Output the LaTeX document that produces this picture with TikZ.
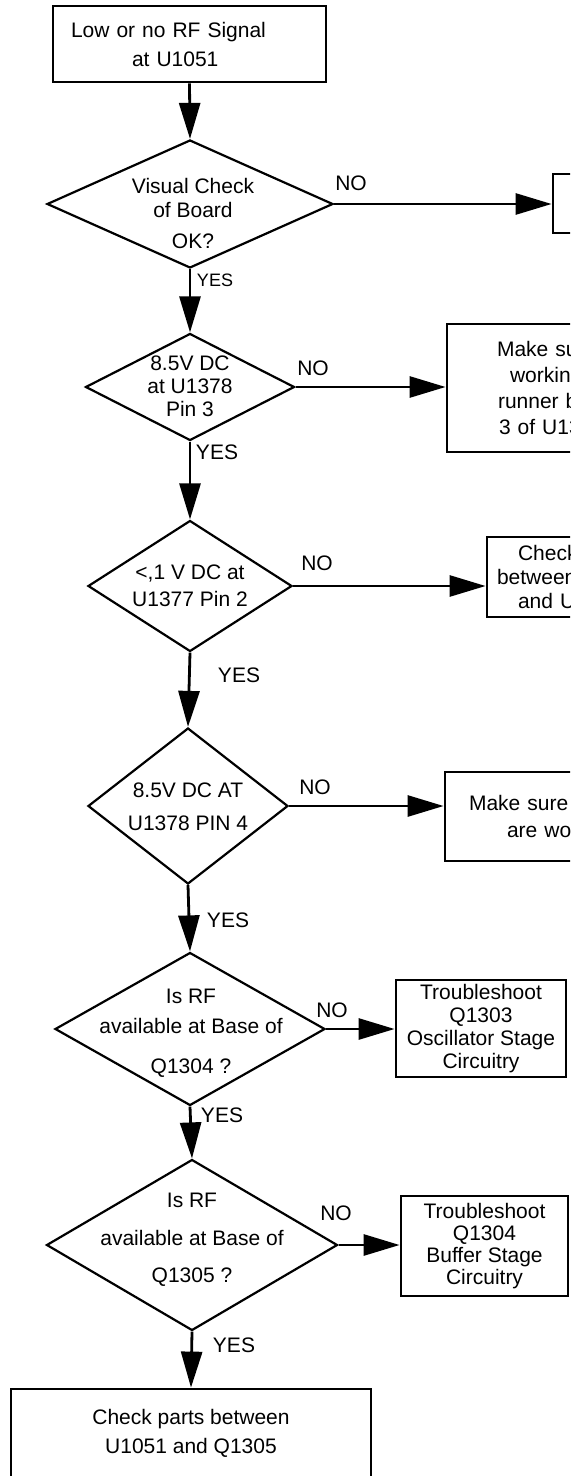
\documentclass[tikz,border=0pt]{standalone}
\usepackage{fontspec}
\setmainfont{Liberation Sans}
\usetikzlibrary{shapes.geometric,arrows.meta}

\begin{document}
\begin{tikzpicture}[
  x=0.5pt, y=-0.5pt,
  box/.style={draw, rectangle, line width=1.4pt, inner sep=0pt, align=center, font=\fontsize{10.5}{12}\selectfont},
  decision/.style={draw, diamond, line width=1.1pt, inner sep=0pt},
  txt/.style={align=center, inner sep=0pt, font=\fontsize{10.5}{12}\selectfont},
  lbl/.style={inner sep=0pt, font=\fontsize{10.5}{12}\selectfont},
  flow/.style={-{Triangle[length=18pt, width=10.5pt]}, line width=1.4pt},
]

\useasboundingbox (0,0) rectangle (570,1476);
\clip (0,0) rectangle (570,1476);

% Start box
\node[box, minimum width=136.5pt, minimum height=38pt, text width=118.5pt, align=left,
  font=\fontsize{10.5}{14.5}\selectfont] (start) at (189.5,44) {Low or no RF Signal\\\hspace*{30.5pt}at U1051};

% Decisions
\node[decision, minimum width=143pt, minimum height=64pt] (d1) at (190,204) {};
\node[decision, minimum width=104.5pt, minimum height=53.5pt] (d2) at (190,387) {};
\node[decision, minimum width=102pt, minimum height=65.5pt] (d3) at (190,586) {};
\node[decision, minimum width=100pt, minimum height=78pt] (d4) at (188,806) {};
\node[decision, minimum width=135pt, minimum height=76.5pt] (d5) at (190,1029) {};
\node[decision, minimum width=145.5pt, minimum height=85.5pt] (d6) at (192,1245) {};

% Decision texts
\node[txt] (d1t) at (193,213) {Visual Check\\of Board\\[3.5pt]OK?};
\node[txt, font=\fontsize{10.5}{11.5}\selectfont] (d2t) at (190,386.5) {8.5V DC\\at U1378\\Pin 3};
\node[txt, font=\fontsize{10.5}{13.5}\selectfont] (d3t) at (190,586) {<,1 V DC at\\U1377 Pin 2};
\node[txt, font=\fontsize{10.5}{16.5}\selectfont] (d4t) at (188,807) {8.5V DC AT\\U1378 PIN 4};
\node[txt, font=\fontsize{10.5}{15}\selectfont] (d5t) at (191,1033) {Is RF\\available at Base of\\[5pt]Q1304 ?};
\node[txt, font=\fontsize{10.5}{18.75}\selectfont] (d6t) at (192,1240) {Is RF\\available at Base of\\Q1305 ?};

% NO branch boxes
\node[box, minimum width=50pt, minimum height=29.5pt] (nb1) at (603,203.5) {};
\node[box, minimum width=110pt, minimum height=64pt, text width=60pt, align=left,
  font=\fontsize{10.5}{13}\selectfont] (nb2) at (557,388)
  {Make su\\\hspace*{6.5pt}workin\\\hspace*{0.5pt}runner b\\\hspace*{1pt}3 of U13};
\node[box, minimum width=70pt, minimum height=40pt, text width=60pt, align=left] (nb3) at (557,577)
  {\hspace*{10.5pt}Check\\between\\\hspace*{10.5pt}and U};
\node[box, minimum width=84pt, minimum height=44.5pt, text width=60pt, align=left,
  font=\fontsize{10.5}{13.5}\selectfont] (nb4) at (529,816.5) {Make sure\\\hspace*{19pt}are wo};
\node[box, minimum width=85pt, minimum height=48.5pt, font=\fontsize{10.5}{11.5}\selectfont] (nb5) at (481,1028.5)
  {Troubleshoot\\Q1303\\Oscillator Stage\\Circuitry};
\node[box, minimum width=83.5pt, minimum height=50pt, font=\fontsize{10.5}{11}\selectfont] (nb6) at (484.5,1246)
  {Troubleshoot\\Q1304\\Buffer Stage\\Circuitry};

% End box
\node[box, minimum width=180pt, minimum height=44.5pt, font=\fontsize{10.5}{14.5}\selectfont] (final) at (191,1433.5)
  {Check parts between\\U1051 and Q1305};

% YES / NO labels
\node[lbl] (no1) at (351,183) {NO};
\node[lbl] (no2) at (313,368) {NO};
\node[lbl] (no3) at (317,563) {NO};
\node[lbl] (no4) at (315,787) {NO};
\node[lbl] (no5) at (332,1010) {NO};
\node[lbl] (no6) at (336,1213) {NO};
\node[lbl, font=\fontsize{9}{10}\selectfont] (yes1) at (215,280) {YES};
\node[lbl] (yes2) at (217,452) {YES};
\node[lbl] (yes3) at (239,675) {YES};
\node[lbl] (yes4) at (228,920) {YES};
\node[lbl] (yes5) at (222,1115) {YES};
\node[lbl] (yes6) at (234,1345) {YES};

% Main flow (YES)
\draw[flow] (start.south) -- (d1.north);
\draw[flow] (d1.south) -- (d2.north);
\draw[flow] (d2.south) -- (d3.north);
\draw[flow] (d3.south) -- (d4.north);
\draw[flow] (d4.south) -- (d5.north);
\draw[flow] (d5.south) -- (d6.north);
\draw[flow] (d6.south) -- (final.north);

% Side branches (NO)
\draw[flow] (d1.east) -- (d1.east -| nb1.west);
\draw[flow] (d2.east) -- (d2.east -| nb2.west);
\draw[flow] (d3.east) -- (d3.east -| nb3.west);
\draw[flow] (d4.east) -- (d4.east -| nb4.west);
\draw[flow] (d5.east) -- (d5.east -| nb5.west);
\draw[flow] (d6.east) -- (d6.east -| nb6.west);
\end{tikzpicture}
\end{document}
